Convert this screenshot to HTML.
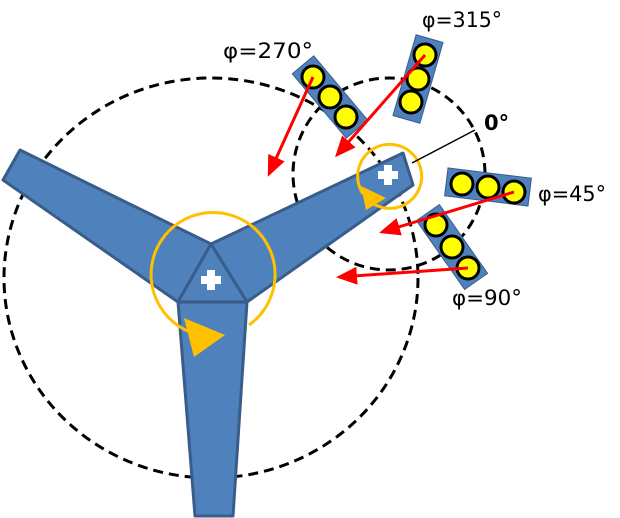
<!DOCTYPE html>
<html><head><style>body{margin:0;background:#fff}svg{display:block}</style></head><body>
<svg width="620" height="518" viewBox="0 0 620 518" xmlns="http://www.w3.org/2000/svg" font-family="DejaVu Sans, sans-serif">
<ellipse cx="211" cy="278" rx="207" ry="200" fill="none" stroke="#000" stroke-width="3" stroke-dasharray="10,6"/>
<circle cx="389" cy="174" r="96" fill="none" stroke="#000" stroke-width="3" stroke-dasharray="10,6"/>
<g fill="#4f81bd" stroke="#385d8a" stroke-width="3" stroke-linejoin="round">
<polygon points="20,150 211,244 178,302 3,180"/>
<polygon points="211,244 403,153 413,185 247,302"/>
<polygon points="178,302 247,302 233,516 195,516"/>
<polygon points="211,244 247,302 178,302"/>
</g>
<g fill="#fff"><rect x="207" y="270" width="8" height="20"/><rect x="201" y="276" width="20" height="8"/>
<rect x="384" y="165" width="8" height="20"/><rect x="378" y="171" width="20" height="8"/></g>
<path d="M249,325 A62,62 0 1 0 190,332" fill="none" stroke="#ffc000" stroke-width="3"/>
<polygon points="184,318 225,335 194,357" fill="#ffc000"/>
<path d="M363,194 A32,32 0 1 1 372,203" fill="none" stroke="#ffc000" stroke-width="3"/>
<polygon points="361,186 386,198 366,210" fill="#ffc000"/>
<g fill="#4f81bd" stroke="#385d8a" stroke-width="1">
<rect x="-14" y="-42" width="28" height="84" transform="translate(330,97) rotate(-40)"/>
<rect x="-14" y="-42" width="28" height="84" transform="translate(418,79) rotate(16)"/>
<rect x="-14" y="-42" width="28" height="84" transform="translate(488,187) rotate(97)"/>
<rect x="-14" y="-42" width="28" height="84" transform="translate(452,247) rotate(-35)"/>
</g>
<g fill="#ffff00" stroke="#000" stroke-width="3">
<circle cx="313" cy="77" r="11"/><circle cx="330" cy="97" r="11"/><circle cx="346" cy="117" r="11"/>
<circle cx="425" cy="55" r="11"/><circle cx="418" cy="79" r="11"/><circle cx="411" cy="102" r="11"/>
<circle cx="462" cy="184" r="11"/><circle cx="488" cy="187" r="11"/><circle cx="514" cy="192" r="11"/>
<circle cx="436" cy="225" r="11"/><circle cx="452" cy="247" r="11"/><circle cx="468" cy="268" r="11"/>
</g>
<defs><marker id="a" markerWidth="8" markerHeight="8" refX="6" refY="4" orient="auto" markerUnits="strokeWidth"><path d="M0,1 L7,4 L0,7 Z" fill="#f00"/></marker></defs>
<g stroke="#f00" stroke-width="3" marker-end="url(#a)">
<line x1="313" y1="77" x2="269" y2="174"/>
<line x1="425" y1="55" x2="337" y2="155"/>
<line x1="514" y1="192" x2="382" y2="232"/>
<line x1="468" y1="268" x2="339" y2="277"/>
</g>
<line x1="475" y1="130" x2="412" y2="163" stroke="#000" stroke-width="1.5"/>
<g font-size="21" fill="#000">
<text x="223" y="58" textLength="90" lengthAdjust="spacingAndGlyphs">φ=270°</text>
<text x="422" y="27" textLength="80" lengthAdjust="spacingAndGlyphs">φ=315°</text>
<text x="484" y="130" font-weight="bold">0°</text>
<text x="538" y="201" textLength="68" lengthAdjust="spacingAndGlyphs">φ=45°</text>
<text x="452" y="305" textLength="70" lengthAdjust="spacingAndGlyphs">φ=90°</text>
</g>
</svg>
</body></html>
